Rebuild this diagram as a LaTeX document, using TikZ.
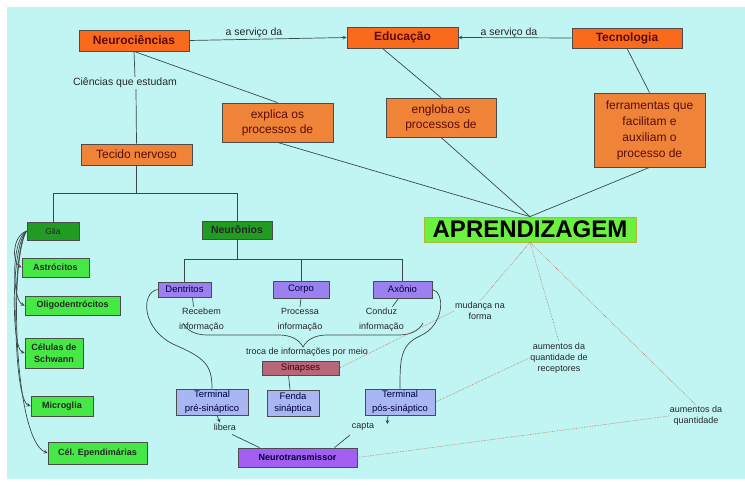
\documentclass[tikz,border=0pt]{standalone}
\usepackage{fontspec}
\setmainfont{Liberation Sans}
\usetikzlibrary{decorations.pathreplacing}
\definecolor{bgcyan}{HTML}{C0F5F4}
\definecolor{orgdark}{HTML}{FA6A1C}
\definecolor{orglight}{HTML}{EF8438}
\definecolor{txtred}{HTML}{5A0C0C}
\definecolor{aprgreen}{HTML}{6AF23E}
\definecolor{aprline}{HTML}{B4B43A}
\definecolor{glgreen}{HTML}{219B21}
\definecolor{ltgreen}{HTML}{46E846}
\definecolor{purp}{HTML}{9C80F0}
\definecolor{termblue}{HTML}{A8B6F2}
\definecolor{sinrose}{HTML}{B8667A}
\definecolor{ntrpurp}{HTML}{A35EF2}
\definecolor{linegray}{HTML}{3C4848}
\definecolor{linkbrown}{HTML}{C07058}
\begin{document}
\begin{tikzpicture}[x=1pt,y=-1pt]

    \tikzset{box/.style={draw=black!70,line width=0.8pt,inner sep=0pt,align=center},
        orgbold/.style={box,fill=orgdark,text=txtred,font=\bfseries\fontsize{12}{14}\selectfont},
        orgbox/.style={box,fill=orglight,text=txtred,font=\fontsize{12}{15}\selectfont},
        glbox/.style={box,fill=glgreen,text=black!85},
        ltbox/.style={box,fill=ltgreen,text=black!85,font=\bfseries\fontsize{9}{12}\selectfont},
        pubox/.style={box,fill=purp,text=blue!25!black,font=\fontsize{9.5}{11}\selectfont},
        tebox/.style={box,fill=termblue,text=blue!25!black,font=\fontsize{9.5}{14}\selectfont},
        lbl/.style={inner sep=1pt,text=black!85,font=\fontsize{10.5}{12}\selectfont},
        sublbl/.style={inner sep=1pt,text=black!85,align=center,font=\fontsize{9}{15}\selectfont},
        tiplbl/.style={inner sep=1pt,text=black!85,align=center,font=\fontsize{9}{11}\selectfont},
        link/.style={draw=linegray,line width=0.7pt},
        dotlink/.style={draw=linkbrown,line width=0.6pt,densely dotted},
        >=stealth}

    \fill[white] (0,0) rectangle (745,486);
    \fill[bgcyan] (7,7) rectangle (745,479);

    \node[orgbold,minimum width=110pt,minimum height=21pt] (neu) at (134,40.5) {Neurociências};
    \node[orgbold,minimum width=111pt,minimum height=21pt] (edu) at (402.5,37.5) {Educação};
    \node[orgbold,minimum width=110pt,minimum height=20pt] (tec) at (627,38) {Tecnologia};
    \node[lbl] (ser1) at (254,33) {a serviço da};
    \node[lbl] (ser2) at (509,33) {a serviço da};

    \node[lbl] (cie) at (125,83) {Ciências que estudam};
    \node[orgbox,minimum width=111pt,minimum height=39pt] (expl) at (277.5,122.5) {explica os\\processos de};
    \node[orgbox,minimum width=110pt,minimum height=39pt] (engl) at (441,117.5) {engloba os\\processos de};
    \node[orgbox,minimum width=111pt,minimum height=74pt,font=\fontsize{12}{16}\selectfont] (ferr) at (649.5,130) {ferramentas que\\facilitam e\\auxiliam o\\processo de};
    \node[orgbox,minimum width=111pt,minimum height=21pt] (tecn) at (136.5,154.5) {Tecido nervoso};

    \node[box,fill=aprgreen,draw=aprline,minimum width=212pt,minimum height=25pt,font=\bfseries\fontsize{24}{26}\selectfont] (apr) at (530,229.5) {APRENDIZAGEM};

    \node[glbox,minimum width=52pt,minimum height=18pt,font=\fontsize{8.5}{10}\selectfont] (glia) at (53,231) {Glia};
    \node[glbox,minimum width=70pt,minimum height=18pt,font=\bfseries\fontsize{10.5}{12}\selectfont] (neur) at (237,230) {Neurônios};

    \node[ltbox,minimum width=67pt,minimum height=19pt] (astr) at (55.5,267.5) {Astrócitos};
    \node[ltbox,minimum width=95pt,minimum height=19pt] (olig) at (72.5,305.5) {Oligodentrócitos};
    \node[ltbox,minimum width=58pt,minimum height=30pt] (schw) at (54,353) {Células de\\Schwann};
    \node[ltbox,minimum width=62pt,minimum height=20pt] (micr) at (62,406) {Microglia};
    \node[ltbox,minimum width=99pt,minimum height=22pt] (epen) at (97.5,453) {Cél. Ependimárias};

    \node[pubox,minimum width=53pt,minimum height=15pt] (dent) at (184.5,289.5) {Dentritos};
    \node[pubox,minimum width=56pt,minimum height=17pt] (corp) at (301,289.5) {Corpo};
    \node[pubox,minimum width=59pt,minimum height=17pt] (axon) at (402.5,289.5) {Axônio};

    \node[sublbl] (rec) at (201.5,319.5) {Recebem\\informação};
    \node[sublbl] (pro) at (300,319.5) {Processa\\informação};
    \node[sublbl] (con) at (381.5,319.5) {Conduz\\informação};

    \coordinate (bl) at (183,323);
    \coordinate (br) at (423,323);
    \node[tiplbl] (troc) at (307,352) {troca de informações por meio};
    \node[box,fill=sinrose,text=red!30!black,minimum width=77pt,minimum height=14pt,font=\fontsize{9.5}{11}\selectfont] (sin) at (300.5,368) {Sinapses};

    \node[tebox,minimum width=72pt,minimum height=26pt] (tpre) at (212,402) {Terminal\\pré-sináptico};
    \node[tebox,minimum width=52pt,minimum height=26pt,font=\fontsize{9.5}{12}\selectfont] (fend) at (293,403) {Fenda\\sináptica};
    \node[tebox,minimum width=70pt,minimum height=26pt] (tpos) at (400,402) {Terminal\\pós-sináptico};

    \node[tiplbl] (lib) at (225,427) {libera};
    \node[tiplbl] (cap) at (363,427) {capta};
    \node[box,fill=ntrpurp,text=blue!20!black,minimum width=119pt,minimum height=19pt,font=\bfseries\fontsize{9}{11}\selectfont] (ntr) at (297.5,457.5) {Neurotransmissor};

    \node[tiplbl] (mud) at (480,311) {mudança na\\forma};
    \node[tiplbl] (rcp) at (559,358) {aumentos da\\quantidade de\\receptores};
    \node[tiplbl] (qtd) at (696,416) {aumentos da\\quantidade};

    \begin{scope}[every path/.style={link}]
        \draw[->] (neu.east) -- (edu.west);
        \draw[->] (tec.west) -- (edu.east);
        \draw (neu.south) -- ([xshift=10pt]cie.north);
        \draw ([xshift=11pt]cie.south) -- (tecn.north);
        \draw (neu.south) -- (expl.north);
        \draw (expl.south) -- (apr.north);
        \draw ([xshift=-20pt]edu.south) -- (engl.north);
        \draw (engl.south) -- (apr.north);
        \draw (tec.south) -- (ferr.north);
        \draw (ferr.south) -- (apr.north);
        \draw (tecn.south) -- +(0,28) -| (glia.north);
        \draw (tecn.south) -- +(0,28) -| (neur.north);
        \draw (neur.south) -- +(0,20) -| (dent.north);
        \draw (neur.south) -- +(0,20) -| (corp.north);
        \draw (neur.south) -- +(0,20) -| (axon.north);
        \draw ([xshift=8pt]dent.south) -- ([xshift=-8pt]rec.north);
        \draw (corp.south) -- (pro.north);
        \draw ([xshift=-4pt]axon.south) -- ([xshift=11pt]con.north);
        \draw (sin.south) ++(-12,0) -- ([xshift=-3pt]fend.north);
        \draw[decorate,decoration={brace,amplitude=24pt,mirror}] (bl) -- (br);
        \draw (dent.west) .. controls (140,293) and (142,330) .. (175,345) .. controls (205,358) and (212,365) .. (tpre.north);
        \draw (axon.east) .. controls (445,292) and (445,325) .. (420,336) .. controls (400,345) and (400,360) .. (tpos.north);
        \draw[->] ([xshift=5pt]tpre.south) -- ([xshift=-5pt]lib.north);
        \draw ([xshift=-5pt,yshift=-3pt]lib.south east) -- ([xshift=-38pt]ntr.north);
        \draw[->] ([xshift=-12pt]tpos.south) -- ([xshift=12pt,yshift=3pt]cap.east);
        \draw ([xshift=-13pt,yshift=-3pt]cap.south) -- ([xshift=37pt]ntr.north);
        \draw[->] (glia.west) .. controls (12,236) and (12,262) .. (astr.west);
        \draw[->] (glia.west) .. controls (11,240) and (12,300) .. (olig.west);
        \draw[->] (glia.west) .. controls (11,245) and (11,348) .. (schw.west);
        \draw[->] (glia.west) .. controls (11,250) and (13,400) .. (micr.west);
        \draw[->] (glia.west) .. controls (9,260) and (14,440) .. (epen.west);
    \end{scope}

    \begin{scope}[every path/.style={dotlink}]
        \draw (apr.south) -- (mud.north);
        \draw (mud.west) -- (sin.east);
        \draw (apr.south) -- (rcp.north);
        \draw (rcp.west) -- (tpos.east);
        \draw (apr.south) -- (qtd.north);
        \draw (qtd.west) -- (ntr.east);
    \end{scope}
\end{tikzpicture}
\end{document}
